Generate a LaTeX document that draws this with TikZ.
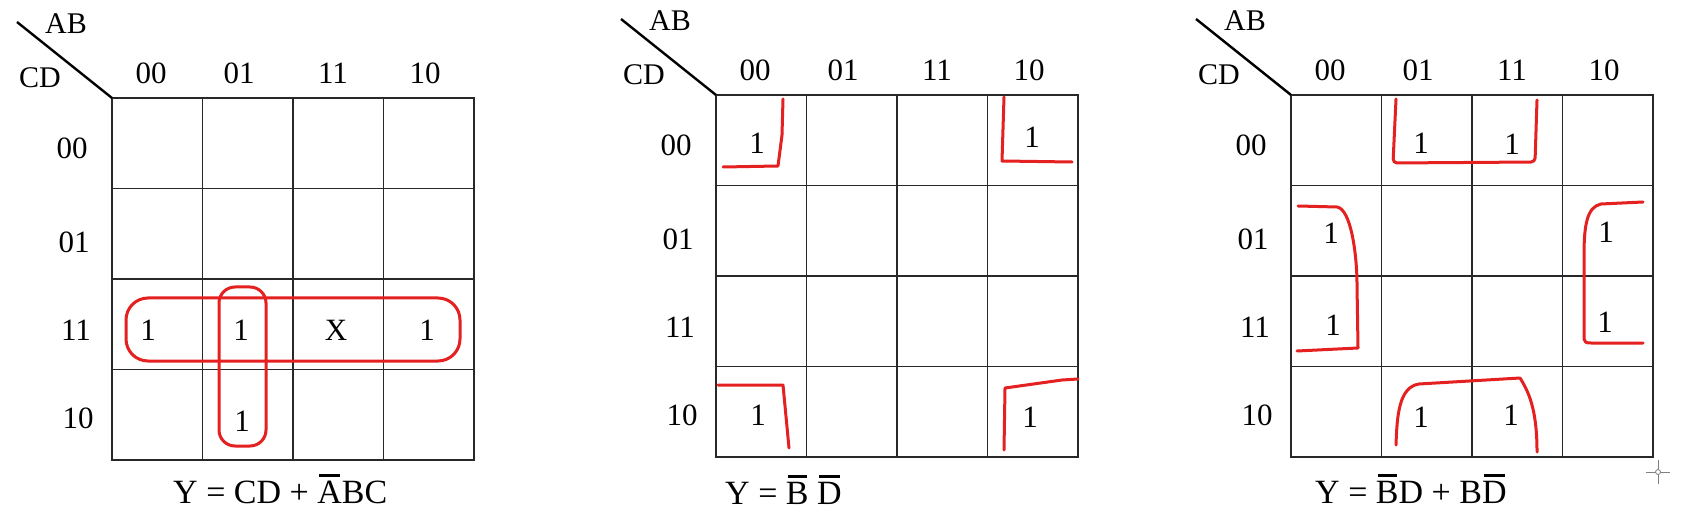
\documentclass[tikz,border=0pt]{standalone}
\usepackage{fontspec}
\setmainfont{Liberation Serif}
\definecolor{loopred}{RGB}{228,32,32}
\definecolor{gridblack}{RGB}{40,40,40}
\newcommand\ovl[1]{\leavevmode\setbox0\hbox{#1}\rlap{\hbox to \wd0{\hfil\vrule height 0.86em depth -0.76em width 0.85\wd0\hfil}}\box0\relax}
\newcommand\kmapframe{%
  \draw[gridline] (0,0) rectangle (362,362);
  \foreach \k in {90.5,181,271.5} {
    \draw[gridline] (\k,0) -- (\k,362);
    \draw[gridline] (0,\k) -- (362,\k);
  }
  \coordinate (corner) at (0,0);
  \coordinate (diagstart) at (-95,-76);
  \draw[diagline] (diagstart) -- (corner);
  \node[hdr] (ab) at (-46,-74) {AB};
  \node[hdr] (cd) at (-72,-20) {CD};
  \node[lbl] (c00) at (39,-25) {00};
  \node[lbl] (c01) at (127,-25) {01};
  \node[lbl] (c11) at (221,-25) {11};
  \node[lbl] (c10) at (313,-25) {10};
  \node[lbl] (r00) at (-40,50) {00};
  \node[lbl] (r01) at (-38,144) {01};
  \node[lbl] (r11) at (-36,232) {11};
  \node[lbl] (r10) at (-34,320) {10};
}
\begin{document}
\begin{tikzpicture}[x=1pt,y=-1pt,
  lbl/.style={font=\fontsize{31}{36}\selectfont, inner sep=0pt, text=black},
  hdr/.style={font=\fontsize{30}{36}\selectfont, inner sep=0pt, text=black},
  formula/.style={font=\fontsize{34}{40}\selectfont, inner sep=0pt, anchor=base west, text=black},
  gridline/.style={draw=gridblack, line width=1.6pt},
  diagline/.style={draw=black, line width=2.4pt},
  loop/.style={draw=loopred, line width=3pt, line cap=round, line join=round}]
\useasboundingbox (0,0) rectangle (1685,526);
\fill[white] (0,0) rectangle (1685,526);

% ---------------- Map 1 ----------------
\begin{scope}[shift={(112,98)}, name prefix=m1-]
  \kmapframe
  \node[lbl] (e1) at (36,232) {1};
  \node[lbl] (e2) at (129,232) {1};
  \node[lbl] (e3) at (224,232) {X};
  \node[lbl] (e4) at (315,232) {1};
  \node[lbl] (e5) at (130,323) {1};
  \draw[loop, rounded corners=22pt] (14,200) rectangle (348,263);
  \draw[loop, rounded corners=16pt] (107,189) rectangle (154,348);
  \node[formula] (f) at (61,405) {Y = CD + \ovl{A}BC};
\end{scope}

% ---------------- Map 2 ----------------
\begin{scope}[shift={(716,95)}, name prefix=m2-]
  \kmapframe
  \node[lbl] (e1) at (41,48) {1};
  \node[lbl] (e2) at (316,42) {1};
  \node[lbl] (e3) at (42,320) {1};
  \node[lbl] (e4) at (314,322) {1};
  \draw[loop] (7,72) -- (62,71) -- (66,40) -- (67,4);
  \draw[loop] (288,2) -- (286,66) -- (356,67);
  \draw[loop] (2,290) -- (67,290) -- (73,353);
  \draw[loop] (288,355) -- (289,293) -- (346,285) -- (362,284);
  \node[formula] (f) at (9,409) {Y = \ovl{B}\ \ovl{D}};
\end{scope}

% ---------------- Map 3 ----------------
\begin{scope}[shift={(1291,95)}, name prefix=m3-]
  \kmapframe
  \node[lbl] (e1) at (130,48) {1};
  \node[lbl] (e2) at (221,49) {1};
  \node[lbl] (e3) at (40,138) {1};
  \node[lbl] (e4) at (42,230) {1};
  \node[lbl] (e5) at (315,137) {1};
  \node[lbl] (e6) at (314,227) {1};
  \node[lbl] (e7) at (130,322) {1};
  \node[lbl] (e8) at (220,320) {1};
  \draw[loop, rounded corners=4pt] (105,4) -- (102,68) -- (244,67) -- (246,5);
  \draw[loop] (7,111) -- (46,112) .. controls (60,114) and (66,160) .. (66,190) -- (67,253) -- (6,256);
  \draw[loop] (352,107) -- (310,109) .. controls (296,112) and (293,130) .. (293,160) -- (293,244) .. controls (293,247) and (295,248) .. (300,248) -- (352,248);
  \draw[loop] (105,350) .. controls (106,320) and (108,292) .. (128,289) -- (229,283) .. controls (240,300) and (246,320) .. (246,357);
  \node[formula] (f) at (24,408) {Y = \ovl{B}D + B\ovl{D}};
  % cursor crosshair
  \coordinate (cur) at (367,377);
  \draw[gray, line width=0.8pt] ([xshift=-12pt]cur) -- ([xshift=12pt]cur);
  \draw[gray, line width=0.8pt] ([yshift=-12pt]cur) -- ([yshift=12pt]cur);
  \draw[gray, fill=white, line width=0.8pt] (cur) circle (2.5pt);
\end{scope}
\end{tikzpicture}
\end{document}
